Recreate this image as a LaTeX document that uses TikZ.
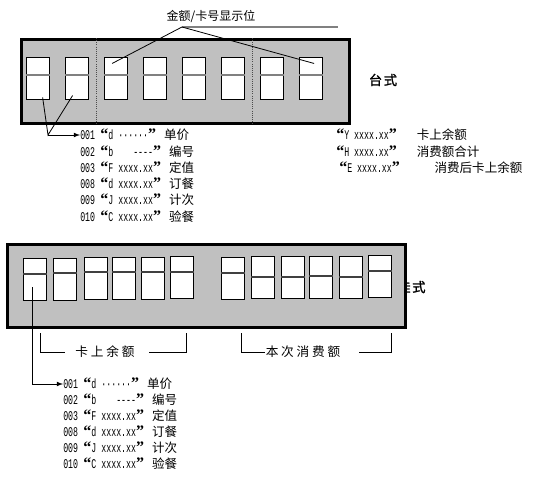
\documentclass[tikz,border=0pt]{standalone}
\usepackage{fontspec}
\usetikzlibrary{positioning,calc,arrows}
\newfontfamily\cjk{Noto Sans CJK SC}
\newfontfamily\cjkwide[LetterSpace=22]{Noto Sans CJK SC}
\newfontfamily\cjkbold[FakeBold=1.5,LetterSpace=12]{Noto Sans CJK SC}
\newfontfamily\mono[FakeStretch=0.62]{Liberation Mono}
\newfontfamily\quo{Liberation Serif}
\definecolor{panelgray}{RGB}{192,192,192}
\definecolor{rulegray}{RGB}{128,128,128}
\newcommand\zh[1]{{\cjk\fontsize{9.4}{10}\selectfont #1}}
\newcommand\oq{{\quo\bfseries\fontsize{12}{12}\selectfont “}}
\newcommand\cq{{\quo\bfseries\fontsize{12}{12}\selectfont ”}}
% code list printed under both panels
\newcommand\menuitems{%
  001/{\oq d ······\cq\hspace{6pt}\zh{单价}},
  002/{\oq b~~~~-{}-{}-{}-\cq\hspace{6pt}\zh{编号}},
  003/{\oq F xxxx.xx\cq\hspace{6pt}\zh{定值}},
  008/{\oq d xxxx.xx\cq\hspace{6pt}\zh{订餐}},
  009/{\oq J xxxx.xx\cq\hspace{6pt}\zh{计次}},
  010/{\oq C xxxx.xx\cq\hspace{6pt}\zh{验餐}}}

\begin{document}
\begin{tikzpicture}[
    x=0.75pt, y=-0.75pt,
    panel/.style={rectangle, draw=black, fill=panelgray, line width=2.2pt,
                  inner sep=0pt, anchor=north west},
    digit/.style={rectangle, draw=black, fill=white, line width=0.7pt,
                  minimum width=17.5pt, minimum height=31.5pt, inner sep=0pt,
                  anchor=north west},
    midline/.style={line width=0.8pt, color=rulegray},
    sep/.style={densely dotted, line width=0.6pt, color=black!70},
    pointer/.style={line width=0.6pt},
    arrow/.style={->, line width=0.6pt, >=latex},
    bracket/.style={line width=0.7pt},
    item/.style={anchor=west, inner sep=0pt, font=\mono\fontsize{10}{11}\selectfont},
    tag/.style={inner sep=0pt, font=\cjkbold\fontsize{10}{12}\selectfont},
    span/.style={inner sep=0pt, font=\cjkwide\fontsize{9.5}{11}\selectfont}
]
\useasboundingbox (0,0) rectangle (536,482);

% desk model (top)
\node[panel, minimum width=246pt, minimum height=63pt] (topframe) at (20,38) {};
\draw[sep] (topframe.north -| 96,0) -- (topframe.south -| 96,0);
\draw[sep] (topframe.north -| 252,0) -- (topframe.south -| 252,0);

\foreach \i/\x in {1/26,2/65,3/104,4/143,5/182,6/221,7/260,8/299} {
  \node[digit] (top\i) at (\x,57) {};
  \draw[midline] (top\i.west |- 0,75) -- (top\i.east |- 0,75);
}

\node[tag] (desk) at (383,80) {台式};

% display position label
\node[font=\cjk\fontsize{9}{10}\selectfont, inner sep=0pt] (lbl) at (211,16) {金额/卡号显示位};
\coordinate (apex) at (182,27);
\coordinate (rule-end) at (338,27);
\draw[rulegray, line width=1.1pt] (apex) -- (rule-end);
\draw[pointer] (apex) -- ($(top3.center)+(-4,-15)$);
\draw[pointer] (apex) -- ($(top8.center)+(3,-15)$);

\foreach \k/\txt [count=\n] in \menuitems {
  \node[item] (top-\k) at (80,{135+16.3*(\n-1)}) {\k\hspace{4pt}\txt};
}

\coordinate (join) at (48,135);
\draw[pointer] ($(top1.center)+(4.5,19)$) -- (join) -- ($(top2.center)+(-4.5,17)$);
\draw[arrow] (join) -- (top-001.west);

\node[item] (bal) at (336,135) {\oq Y xxxx.xx\cq~~~~\zh{卡上余额}};
\node[item] (sum) at (336,152) {\oq H xxxx.xx\cq~~~~\zh{消费额合计}};
\node[item] (after) at (339,168) {\oq E xxxx.xx\cq~~~~~~~\zh{消费后卡上余额}};

% wall model (bottom)
\node[tag, anchor=west] (wall) at (397,287) {挂式};
\node[panel, minimum width=298.5pt, minimum height=62.5pt] (botframe) at (6,243) {};

\foreach \i/\x/\y/\m in {1/23/258/274,2/53/258/273,3/84/257/272,4/112/257/272,
    5/141/257/272,6/170/256/272,7/221/257/273,8/251/256/277,9/281/256/277,
    10/309/256/276,11/339/256/277,12/368/255/271} {
  \node[digit] (bot\i) at (\x,\y) {};
  \draw[midline, color=black!75] (bot\i.west |- 0,\m) -- (bot\i.east |- 0,\m);
}

\node[span] (kbal) at (105,352) {卡上余额};
\node[span] (cost) at (303,352) {本次消费额};
\coordinate (kb-l) at (40,333);
\coordinate (kb-r) at (186,333);
\coordinate (co-l) at (241,333);
\coordinate (co-r) at (391,333);
\draw[bracket] (kb-l) |- ([xshift=-7.5pt]kbal.west);
\draw[bracket] ([xshift=11pt]kbal.east) -| (kb-r);
\draw[bracket] (co-l) |- ([xshift=-0.5pt]cost.west);
\draw[bracket] ([xshift=14pt]cost.east) -| (co-r);

\foreach \k/\txt [count=\n] in \menuitems {
  \node[item] (bot-\k) at (63,{384+16*(\n-1)}) {\k\hspace{4pt}\txt};
}
\draw[arrow] ($(bot1.center)+(-3,8)$) |- (bot-001.west);

\end{tikzpicture}
\end{document}
